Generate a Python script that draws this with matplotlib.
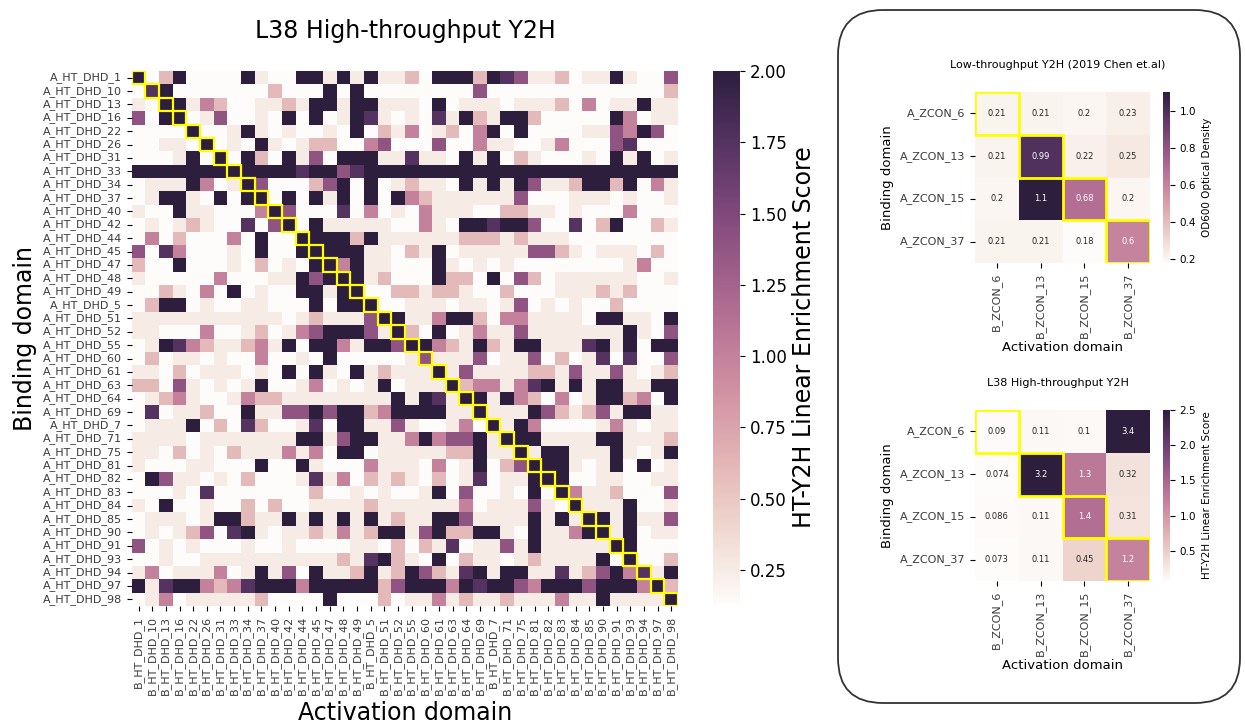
import numpy as np
import matplotlib
matplotlib.use("Agg")
import matplotlib.pyplot as plt
import seaborn as sns
from matplotlib.patches import Rectangle, FancyBboxPatch
from matplotlib.transforms import IdentityTransform

W, H = 1245, 723

ht_ids = ["1", "10", "13", "16", "22", "26", "31", "33", "34", "37",
          "40", "42", "44", "45", "47", "48", "49", "5", "51", "52",
          "55", "60", "61", "63", "64", "69", "7", "71", "75", "81",
          "82", "83", "84", "85", "90", "91", "93", "94", "97", "98"]
binding_labels = ["A_HT_DHD_" + s for s in ht_ids]
activation_labels = ["B_HT_DHD_" + s for s in ht_ids]

level_values = [0.1, 0.25, 0.6, 1.0, 1.4, 1.75, 2.5]

ht_levels = [
    "60260000610066161611" "20666265411201161004",
    "05600000002000606000" "00000400000000000002",
    "10661320011216616611" "10601110111203011611",
    "40660140010606016510" "10516216620000063011",
    "00006001610100106021" "30120360600001143640",
    "00110601061012200340" "00400311001300045000",
    "00016060620614066611" "51106160210001061601",
    "66666666666656645666" "66666666666666666666",
    "01116301640002460601" "21106161641126626031",
    "01661060660606160606" "32111111400011101001",
    "10061100036400050301" "03111002211010003000",
    "01012100504606111110" "03106656640050260021",
    "03020003060066662611" "11112221211100000000",
    "40530001060066666110" "21601111144210111020",
    "20060001020106636110" "00610101000000001300",
    "10000030001164666120" "00622060420111111001",
    "00210306010066166002" "21221002000111212000",
    "02660100110006066600" "11101101401010020000",
    "11111111111012111466" "11366203311110661106",
    "11000300120134666416" "20601311411111116104",
    "01653211231606631664" "66321621661115616066",
    "02011010030010600000" "14111401140201505004",
    "11020111010606106121" "11614111122141141012",
    "22041010160013010160" "11162331356161661166",
    "01231001322111111116" "16516616320301662306",
    "05011200611446466236" "66611611164212416611",
    "01116020520015066114" "10013061630000131011",
    "11110111111166146611" "36344616661111661112",
    "11020102111313066011" "11122611616611161016",
    "10001100060061000311" "10301602466610160601",
    "06411010200015130212" "10201501166600110011",
    "00010500000002001010" "01604001060631120004",
    "10600100202001111211" "11113011141061116001",
    "01110166211616161612" "11664111161616616114",
    "01012405610112131266" "14622661061136616011",
    "40101000100100001102" "02150114161111166000",
    "00100111111111121562" "10602110121111606002",
    "13011130161406112612" "64215616611512463516",
    "61566323566636666624" "66636566436664666362",
    "01301111120000600020" "11312112111311611116",
]

# small ZCON panels
zcon_rows = ["A_ZCON_6", "A_ZCON_13", "A_ZCON_15", "A_ZCON_37"]
zcon_cols = ["B_ZCON_6", "B_ZCON_13", "B_ZCON_15", "B_ZCON_37"]
od600 = [[0.21, 0.21, 0.2, 0.23],
         [0.21, 0.99, 0.22, 0.25],
         [0.2, 1.1, 0.68, 0.2],
         [0.21, 0.21, 0.18, 0.6]]
ht_zcon = [[0.09, 0.11, 0.1, 3.4],
           [0.074, 3.2, 1.3, 0.32],
           [0.086, 0.11, 1.4, 0.31],
           [0.073, 0.11, 0.45, 1.2]]

ht_matrix = np.array([[level_values[int(ch)] for ch in row] for row in ht_levels])

cmap = sns.cubehelix_palette(light=0.985, dark=0.15, as_cmap=True)


def px_axes(fig, x0, y0, x1, y1):
    # place axes by pixel box (top-left origin)
    return fig.add_axes([x0 / W, 1 - y1 / H, (x1 - x0) / W, (y1 - y0) / H])


fig = plt.figure(figsize=(W / 100, H / 100), dpi=100)

# ---- main heatmap
ax = px_axes(fig, 131.7, 71, 678, 606)
cax = px_axes(fig, 713, 71, 740, 604)
sns.heatmap(ht_matrix, ax=ax, cmap=cmap, vmin=0.13, vmax=2.0, cbar_ax=cax,
            xticklabels=activation_labels, yticklabels=binding_labels)
for i in range(len(ht_ids)):
    ax.add_patch(Rectangle((i, i), 1, 1, fill=False, edgecolor="yellow", lw=1.6))
ax.set_xticklabels(activation_labels, rotation=90, fontsize=8, color="#3a3a3a")
ax.set_yticklabels(binding_labels, rotation=0, fontsize=8, color="#3a3a3a")
ax.set_xlabel("Activation domain", fontsize=17)
ax.set_ylabel("Binding domain", fontsize=17)
cax.tick_params(labelsize=12)
cax.set_ylabel("HT-Y2H Linear Enrichment Score", fontsize=17)
fig.text(405 / W, 1 - 31 / H, "L38 High-throughput Y2H", fontsize=17,
         ha="center", va="center")

# ---- right panel box
box = FancyBboxPatch((838, 20), 402, 693, boxstyle="round,pad=0,rounding_size=45",
                     transform=IdentityTransform(), fill=False,
                     edgecolor="#333333", lw=1.3)
fig.add_artist(box)


def small_panel(top, values, vmin, vmax, title, cbar_label):
    a = px_axes(fig, 975, top, 1150, top + 171)
    c = px_axes(fig, 1163, top, 1170, top + 171)
    sns.heatmap(np.array(values), ax=a, cmap=cmap, vmin=vmin, vmax=vmax, cbar_ax=c,
                annot=True, annot_kws={"fontsize": 6},
                xticklabels=zcon_cols, yticklabels=zcon_rows)
    for i in range(4):
        a.add_patch(Rectangle((i, i), 1, 1, fill=False, edgecolor="yellow", lw=2))
    a.set_xticklabels(zcon_cols, rotation=90, fontsize=8, color="#3a3a3a")
    a.set_yticklabels(zcon_rows, rotation=0, fontsize=8, color="#3a3a3a")
    a.set_xlabel("Activation domain", fontsize=9.5, labelpad=2)
    a.set_ylabel("Binding domain", fontsize=9.5)
    c.tick_params(labelsize=7.5)
    c.set_ylabel(cbar_label, fontsize=7.5)
    fig.text(1058 / W, 1 - (top - 27) / H, title, fontsize=8, ha="center", va="center")


small_panel(92, od600, None, None, "Low-throughput Y2H (2019 Chen et.al)",
            "OD600 Optical Density")
small_panel(410, ht_zcon, None, 2.5, "L38 High-throughput Y2H",
            "HT-Y2H Linear Enrichment Score")

fig.savefig("out.png", dpi=100)
